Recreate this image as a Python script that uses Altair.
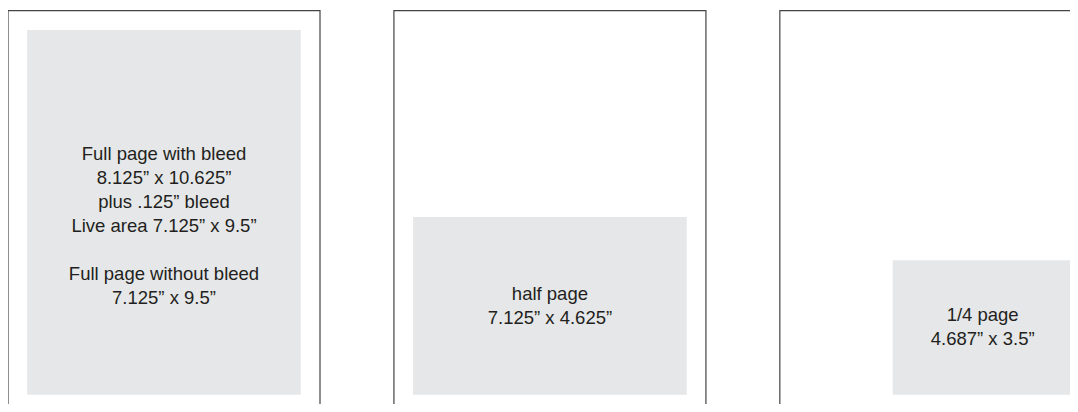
import altair as alt
import pandas as pd

# Page sizes (inches) and ad unit sizes
page_names = ["Full page", "Half page", "Quarter page"]
page_width = 8.125
page_height = 10.625
page_gap = 1.925

ad_widths = [7.125, 7.125, 4.687]
ad_heights = [9.5, 4.625, 3.5]
ad_right_margin = 0.5      # from page right edge
ad_bottom = 10.0           # bottom edge of ad (from page top)

labels = [
    ["Full page with bleed", "8.125\u201d x 10.625\u201d", "plus .125\u201d bleed",
     "Live area 7.125\u201d x 9.5\u201d", "", "Full page without bleed", "7.125\u201d x 9.5\u201d"],
    ["half page", "7.125\u201d x 4.625\u201d"],
    ["1/4 page", "4.687\u201d x 3.5\u201d"],
]
label_shift = [0.36, 0.0, 0.0]
line_height = 0.625

pages, ads, texts = [], [], []
for i, name in enumerate(page_names):
    off = i * (page_width + page_gap)
    pages.append(dict(name=name, x=off, x2=off + page_width, y=0.0, y2=page_height))
    ax2 = off + page_width - ad_right_margin
    ax = ax2 - ad_widths[i]
    ay2 = ad_bottom
    ay = ay2 - ad_heights[i]
    ads.append(dict(name=name, x=ax, x2=ax2, y=ay, y2=ay2))
    cx = (ax + ax2) / 2
    cy = (ay + ay2) / 2 + label_shift[i]
    n = len(labels[i])
    for j, t in enumerate(labels[i]):
        texts.append(dict(name=name, x=cx, y=cy + (j - (n - 1) / 2) * line_height, text=t))

pages_df = pd.DataFrame(pages)
ads_df = pd.DataFrame(ads)
text_df = pd.DataFrame(texts)

W, H, PPI = 1062, 396, 38.4
xs = alt.Scale(domain=[0, W / PPI], nice=False, zero=False)
ys = alt.Scale(domain=[-0.07, -0.07 + H / PPI], nice=False, zero=False, reverse=True)

X = alt.X("x:Q", scale=xs, axis=None)
X2 = alt.X2("x2:Q")
Y = alt.Y("y:Q", scale=ys, axis=None)
Y2 = alt.Y2("y2:Q")

page_layer = alt.Chart(pages_df).mark_rect(
    fill="white", stroke="#444444", strokeWidth=1.2, clip=True
).encode(x=X, x2=X2, y=Y, y2=Y2)

ad_layer = alt.Chart(ads_df).mark_rect(
    fill="#e6e7e8", clip=True
).encode(x=X, x2=X2, y=Y, y2=Y2)

text_layer = alt.Chart(text_df).mark_text(
    font="Liberation Sans", fontSize=18.5, color="#231f20", align="center", baseline="middle"
).encode(x=X, y=Y, text="text:N")

chart = alt.layer(page_layer, ad_layer, text_layer).properties(
    width=W, height=H,
    autosize=alt.AutoSizeParams(type="none"),
    padding=0,
).configure_view(stroke=None)

chart.save("out.html", embed_options={"renderer": "svg", "actions": False})
